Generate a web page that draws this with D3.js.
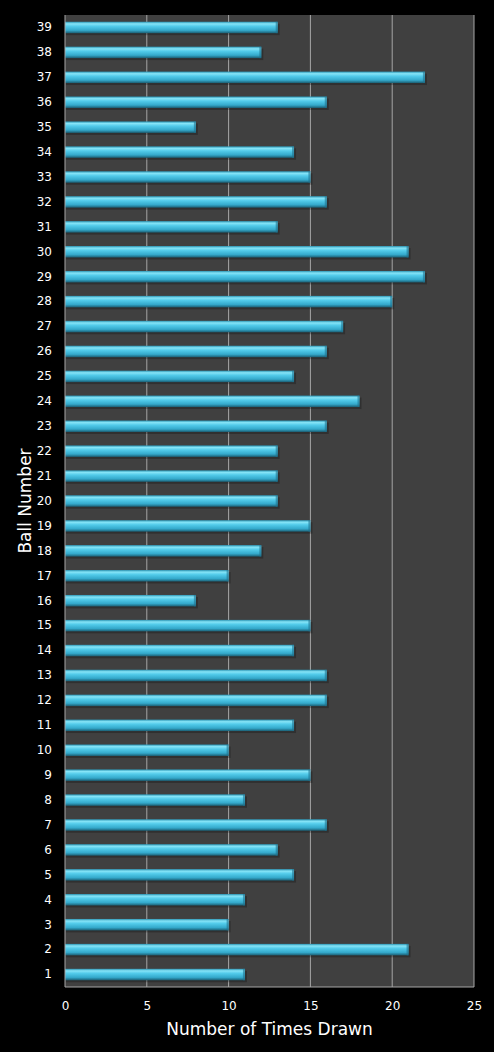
<!DOCTYPE html>
<html>
<head>
<meta charset="utf-8">
<script src="https://cdn.jsdelivr.net/npm/d3@7/dist/d3.min.js"></script>
<style>
  html, body { margin: 0; padding: 0; background: #000; }
  svg { display: block; }
</style>
</head>
<body>
<div id="chart"></div>
<script>
// Ball numbers, bottom to top as drawn
const balls = d3.range(1, 40);

// Times each ball was drawn (ball 1 .. ball 39)
const timesDrawn = [
  11, 21, 10, 11, 14, 13, 16, 11, 15, 10,
  14, 16, 16, 14, 15, 8, 10, 12, 15, 13,
  13, 13, 16, 18, 14, 16, 17, 20, 22, 21,
  13, 16, 15, 14, 8, 16, 22, 12, 13
];

const xTicks = [0, 5, 10, 15, 20, 25];

const data = balls.map((b, i) => ({ ball: b, value: timesDrawn[i] }));

const width = 494;
const height = 1052;
const margin = { top: 15, right: 20, bottom: 65, left: 65 };

const svg = d3.select('#chart')
  .append('svg')
  .attr('width', width)
  .attr('height', height);

// Bar gradient for the tube look
const defs = svg.append('defs');
const grad = defs.append('linearGradient')
  .attr('id', 'barGrad')
  .attr('x1', 0).attr('y1', 0)
  .attr('x2', 0).attr('y2', 1);
grad.append('stop').attr('offset', '0%').attr('stop-color', '#2a94b3');
grad.append('stop').attr('offset', '18%').attr('stop-color', '#86e4f7');
grad.append('stop').attr('offset', '40%').attr('stop-color', '#52cbea');
grad.append('stop').attr('offset', '75%').attr('stop-color', '#34a9cb');
grad.append('stop').attr('offset', '100%').attr('stop-color', '#1b5e73');

const x = d3.scaleLinear()
  .domain([0, 25])
  .range([margin.left, width - margin.right]);

const y = d3.scaleBand()
  .domain(balls.slice().reverse())
  .range([margin.top, height - margin.bottom])
  .paddingInner(0.54)
  .paddingOuter(0.27);

// Plot background
svg.append('rect')
  .attr('x', x(0))
  .attr('y', margin.top)
  .attr('width', x(25) - x(0))
  .attr('height', height - margin.bottom - margin.top)
  .attr('fill', '#404040');

// Vertical gridlines
svg.append('g')
  .selectAll('line')
  .data(xTicks.slice(1))
  .enter()
  .append('line')
  .attr('x1', d => x(d))
  .attr('x2', d => x(d))
  .attr('y1', margin.top)
  .attr('y2', height - margin.bottom)
  .attr('stroke', '#a6a6a6')
  .attr('stroke-width', 1);

// Bar shadows
svg.selectAll('.shadow')
  .data(data)
  .enter()
  .append('rect')
  .attr('class', 'shadow')
  .attr('x', x(0) + 1)
  .attr('y', d => y(d.ball) + 2)
  .attr('width', d => x(d.value) - x(0) + 1)
  .attr('height', y.bandwidth())
  .attr('fill', '#000')
  .attr('opacity', 0.25);

// Bars
svg.selectAll('.bar')
  .data(data)
  .enter()
  .append('rect')
  .attr('class', 'bar')
  .attr('x', x(0))
  .attr('y', d => y(d.ball))
  .attr('width', d => x(d.value) - x(0))
  .attr('height', y.bandwidth())
  .attr('fill', 'url(#barGrad)');

// Bar end caps
svg.selectAll('.cap')
  .data(data)
  .enter()
  .append('rect')
  .attr('class', 'cap')
  .attr('x', d => x(d.value) - 2)
  .attr('y', d => y(d.ball))
  .attr('width', 2)
  .attr('height', y.bandwidth())
  .attr('fill', '#1f7390')
  .attr('opacity', 0.6);

// Plot border (left axis line, bottom edge)
svg.append('line')
  .attr('x1', x(0)).attr('x2', x(0))
  .attr('y1', margin.top).attr('y2', height - margin.bottom)
  .attr('stroke', '#a6a6a6');
svg.append('line')
  .attr('x1', x(0)).attr('x2', x(25))
  .attr('y1', height - margin.bottom).attr('y2', height - margin.bottom)
  .attr('stroke', '#a6a6a6');

// X axis
const xAxis = d3.axisBottom(x)
  .tickValues(xTicks)
  .tickSize(0)
  .tickPadding(14);

svg.append('g')
  .attr('transform', `translate(0,${height - margin.bottom})`)
  .call(xAxis)
  .call(g => g.select('.domain').remove())
  .call(g => g.selectAll('text')
    .attr('fill', '#fff')
    .attr('font-family', 'DejaVu Sans, Verdana, sans-serif')
    .attr('font-size', '12px'));

// Y axis
const yAxis = d3.axisLeft(y)
  .tickSize(0)
  .tickPadding(13);

svg.append('g')
  .attr('transform', `translate(${x(0)},0)`)
  .call(yAxis)
  .call(g => g.select('.domain').remove())
  .call(g => g.selectAll('text')
    .attr('fill', '#fff')
    .attr('font-family', 'DejaVu Sans, Verdana, sans-serif')
    .attr('font-size', '12px'));

// Axis titles
svg.append('text')
  .attr('x', (x(0) + x(25)) / 2)
  .attr('y', height - 17)
  .attr('text-anchor', 'middle')
  .attr('fill', '#fff')
  .attr('font-family', 'DejaVu Sans, Verdana, sans-serif')
  .attr('font-size', '17px')
  .text('Number of Times Drawn');

svg.append('text')
  .attr('transform', `translate(31,${(margin.top + height - margin.bottom) / 2}) rotate(-90)`)
  .attr('text-anchor', 'middle')
  .attr('fill', '#fff')
  .attr('font-family', 'DejaVu Sans, Verdana, sans-serif')
  .attr('font-size', '17px')
  .text('Ball Number');
</script>
</body>
</html>
